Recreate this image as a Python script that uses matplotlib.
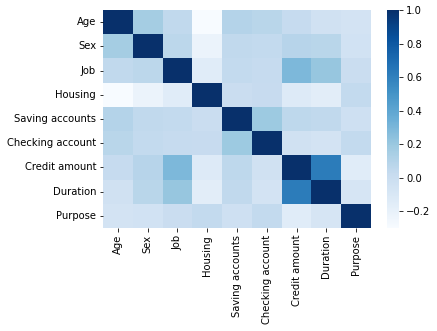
import numpy as np
import pandas as pd
import matplotlib
matplotlib.use("Agg")
import matplotlib.pyplot as plt
import seaborn as sns

labels = ["Age", "Sex", "Job", "Housing", "Saving accounts",
          "Checking account", "Credit amount", "Duration", "Purpose"]

# correlation values (symmetric)
row_age = [1.00, 0.16, 0.05, -0.30, 0.10, 0.08, 0.03, -0.04, -0.06]
row_sex = [0.16, 1.00, 0.07, -0.22, 0.05, 0.04, 0.09, 0.08, -0.05]
row_job = [0.05, 0.07, 1.00, -0.15, 0.04, 0.03, 0.29, 0.21, 0.00]
row_housing = [-0.30, -0.22, -0.15, 1.00, 0.00, 0.02, -0.13, -0.16, 0.04]
row_saving = [0.10, 0.05, 0.04, 0.00, 1.00, 0.19, 0.06, 0.05, -0.03]
row_checking = [0.08, 0.04, 0.03, 0.02, 0.19, 1.00, -0.04, -0.06, 0.04]
row_credit = [0.03, 0.09, 0.29, -0.13, 0.06, -0.04, 1.00, 0.62, -0.15]
row_duration = [-0.04, 0.08, 0.21, -0.16, 0.05, -0.06, 0.62, 1.00, -0.08]
row_purpose = [-0.06, -0.05, 0.00, 0.04, -0.03, 0.04, -0.15, -0.08, 1.00]

corr = pd.DataFrame([row_age, row_sex, row_job, row_housing, row_saving,
                     row_checking, row_credit, row_duration, row_purpose],
                    index=labels, columns=labels)

fig = plt.figure(figsize=(437 / 72, 331 / 72), dpi=72)
ax = fig.add_axes([0.2357, 0.3112, 0.6133, 0.6586])
cax = fig.add_axes([0.8856, 0.3112, 0.0275, 0.6586])
sns.heatmap(corr, cmap="Blues", ax=ax, cbar_ax=cax)
ax.tick_params(labelsize=10)
cax.tick_params(labelsize=10)
fig.savefig("out.png", dpi=72)
